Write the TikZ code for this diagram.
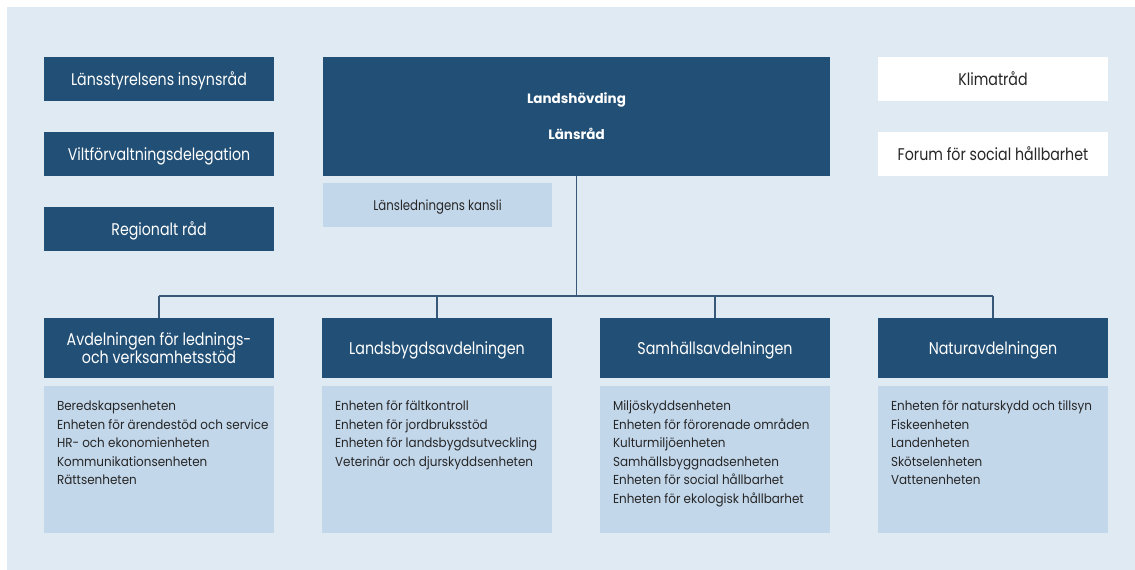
\documentclass[tikz,border=0pt]{standalone}
\usepackage{fontspec}
\setmainfont{Poppins}
\newfontfamily\boxfont{Poppins}[FakeStretch=0.84]
\newfontfamily\unitfont{Poppins}[FakeStretch=0.92]
\usetikzlibrary{calc}
\definecolor{dblue}{RGB}{34,79,117}
\definecolor{lblue}{RGB}{195,215,235}
\definecolor{panel}{RGB}{224,234,243}
\definecolor{conncol}{RGB}{55,88,120}
\begin{document}
\begin{tikzpicture}[x=1pt,y=-1pt,
  darkbox/.style={fill=dblue,text=white,inner sep=0pt,minimum width=230pt,minimum height=44pt,text height=12pt,text depth=0pt,font=\boxfont\fontsize{16.9}{19}\selectfont},
  whitebox/.style={fill=white,text=black!85,inner sep=0pt,minimum width=230pt,minimum height=44pt,text height=12pt,text depth=0pt,font=\boxfont\fontsize{16.9}{19}\selectfont},
  deptbox/.style={fill=dblue,text=white,inner sep=0pt,minimum width=230pt,minimum height=60pt,text height=12.6pt,text depth=0pt,font=\boxfont\fontsize{17}{17.6}\selectfont},
  unitbox/.style={fill=lblue,inner sep=0pt,minimum width=230pt,minimum height=147pt},
  unittext/.style={anchor=base west,inner sep=0pt,text=black!85,font=\unitfont\fontsize{13}{18.5}\selectfont},
  conn/.style={draw=conncol,line width=1.3pt}]
\useasboundingbox (0,0) rectangle (1135,570);
\fill[white] (0,0) rectangle (1135,570);
\fill[panel] (7,7) rectangle (1135,570);
% left councils
\node[darkbox] (insyn) at (159,79) {Länsstyrelsens insynsråd};
\node[darkbox] (vilt) at (159,154) {Viltförvaltningsdelegation};
\node[darkbox] (reg) at (159,229) {Regionalt råd};
% head
\node[fill=dblue,text=white,inner sep=0pt,minimum width=507pt,minimum height=119pt,text height=5pt,text depth=31.4pt,font=\bfseries\fontsize{13.5}{36}\selectfont] (head) at (576.5,116.5) {\begin{tabular}[t]{@{}c@{}}Landshövding\\Länsråd\end{tabular}};
\node[fill=lblue,text=black!85,inner sep=0pt,minimum width=229pt,minimum height=44.5pt,text height=11pt,text depth=0pt,font=\boxfont\fontsize{14}{16}\selectfont] (kansli) at (437.5,205.2) {Länsledningens kansli};
% right councils
\node[whitebox] (klimat) at (993,79) {Klimatråd};
\node[whitebox] (forum) at (993,154) {Forum för social hållbarhet};
% departments
\node[deptbox,text height=6pt,text depth=10.6pt] (d1) at (159,348) {\begin{tabular}[t]{@{}c@{}}Avdelningen för lednings-\\och verksamhetsstöd\end{tabular}};
\node[deptbox] (d2) at (437,348) {Landsbygdsavdelningen};
\node[deptbox] (d3) at (715,348) {Samhällsavdelningen};
\node[deptbox] (d4) at (993,348) {Naturavdelningen};
% units
\node[unitbox] (u1) at (159,459.5) {};
\node[unitbox] (u2) at (437,459.5) {};
\node[unitbox] (u3) at (715,459.5) {};
\node[unitbox] (u4) at (993,459.5) {};
\node[unittext] (t1) at ([xshift=13pt,yshift=-25pt]u1.north west) {\begin{tabular}[t]{@{}l@{}}Beredskapsenheten\\Enheten för ärendestöd och service\\HR- och ekonomienheten\\Kommunikationsenheten\\Rättsenheten\end{tabular}};
\node[unittext] (t2) at ([xshift=13pt,yshift=-25pt]u2.north west) {\begin{tabular}[t]{@{}l@{}}Enheten för fältkontroll\\Enheten för jordbruksstöd\\Enheten för landsbygdsutveckling\\Veterinär och djurskyddsenheten\end{tabular}};
\node[unittext] (t3) at ([xshift=13pt,yshift=-25pt]u3.north west) {\begin{tabular}[t]{@{}l@{}}Miljöskyddsenheten\\Enheten för förorenade områden\\Kulturmiljöenheten\\Samhällsbyggnadsenheten\\Enheten för social hållbarhet\\Enheten för ekologisk hållbarhet\end{tabular}};
\node[unittext] (t4) at ([xshift=13pt,yshift=-25pt]u4.north west) {\begin{tabular}[t]{@{}l@{}}Enheten för naturskydd och tillsyn\\Fiskeenheten\\Landenheten\\Skötselenheten\\Vattenenheten\end{tabular}};
% connectors
\coordinate (hub) at (head.south |- 0,296);
\coordinate (j1) at (d1.north |- 0,296);
\coordinate (j2) at (d2.north |- 0,296);
\coordinate (j3) at (d3.north |- 0,296);
\coordinate (j4) at (d4.north |- 0,296);
\draw[conn] (head.south) -- (hub);
\draw[conn] (j1) -- (j4);
\draw[conn] (j1) -- (d1.north);
\draw[conn] (j2) -- (d2.north);
\draw[conn] (j3) -- (d3.north);
\draw[conn] (j4) -- (d4.north);
\end{tikzpicture}
\end{document}
